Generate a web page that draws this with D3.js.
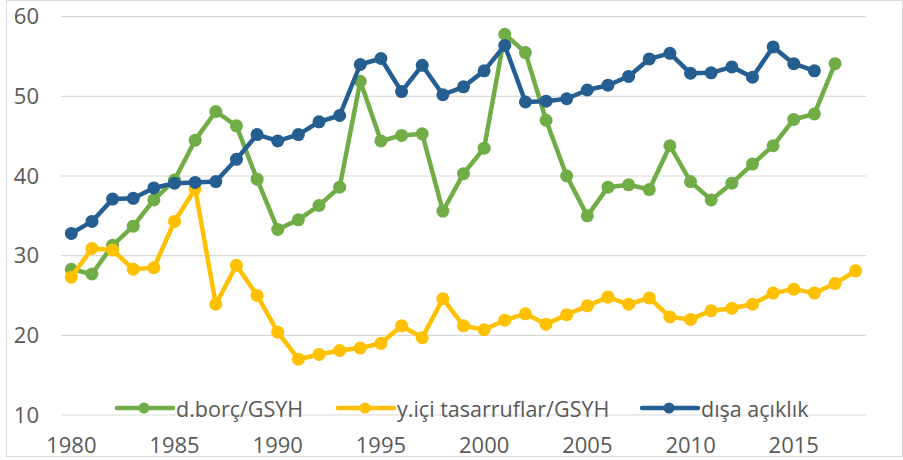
<!DOCTYPE html>
<html>
<head>
<meta charset="utf-8">
<script src="https://cdn.jsdelivr.net/npm/d3@7"></script>
<style>
  body { margin: 0; background: #fff; }
  text { font-family: "Open Sans", "Noto Sans", sans-serif; fill: #595959; }
</style>
</head>
<body>
<div id="chart"></div>
<script>
const years = d3.range(1980, 2019);

const borc = [28.3, 27.7, 31.3, 33.7, 37.0, 39.5, 44.5, 48.1, 46.3, 39.6,
  33.3, 34.5, 36.3, 38.6, 51.9, 44.4, 45.1, 45.3, 35.6, 40.3,
  43.5, 57.8, 55.5, 47.0, 40.0, 35.0, 38.6, 38.9, 38.3, 43.8,
  39.3, 37.0, 39.1, 41.5, 43.8, 47.1, 47.8, 54.1];

const tasarruf = [27.3, 30.9, 30.7, 28.3, 28.5, 34.3, 38.4, 23.9, 28.8, 25.0,
  20.4, 17.0, 17.6, 18.1, 18.4, 19.0, 21.2, 19.7, 24.6, 21.2,
  20.7, 21.9, 22.7, 21.4, 22.6, 23.7, 24.8, 23.9, 24.7, 22.3,
  22.0, 23.1, 23.4, 23.9, 25.3, 25.8, 25.3, 26.5, 28.1];

const acik = [32.8, 34.3, 37.1, 37.2, 38.5, 39.1, 39.2, 39.3, 42.1, 45.2,
  44.4, 45.2, 46.8, 47.6, 54.0, 54.75, 50.6, 53.9, 50.2, 51.2,
  53.2, 56.4, 49.3, 49.4, 49.7, 50.8, 51.4, 52.5, 54.7, 55.4,
  52.9, 52.95, 53.7, 52.4, 56.2, 54.1, 53.2];

const yTicks = [10, 20, 30, 40, 50, 60];
const xTicks = [1980, 1985, 1990, 1995, 2000, 2005, 2010, 2015];

const series = [
  { name: "d.borç/GSYH", values: borc, color: "#70AD47", lx: 117 },
  { name: "y.içi tasarruflar/GSYH", values: tasarruf, color: "#FFC000", lx: 338 },
  { name: "dışa açıklık", values: acik, color: "#255E91", lx: 642 }
];

const W = 903, H = 460;
const plot = { left: 61, right: 866, top: 16.7, bottom: 415 };

const svg = d3.select("#chart").append("svg")
  .attr("width", W)
  .attr("height", H);

// chart border
svg.append("rect")
  .attr("x", 6.5).attr("y", 0.5)
  .attr("width", W - 7).attr("height", 456)
  .attr("fill", "#fff")
  .attr("stroke", "#d9d9d9");

const x = d3.scaleBand()
  .domain(years)
  .range([plot.left, plot.right]);

const y = d3.scaleLinear()
  .domain([10, 60])
  .range([plot.bottom, plot.top]);

const cx = yr => x(yr) + x.bandwidth() / 2;

// gridlines
svg.append("g")
  .selectAll("line")
  .data(yTicks)
  .join("line")
  .attr("x1", plot.left).attr("x2", plot.right)
  .attr("y1", d => y(d)).attr("y2", d => y(d))
  .attr("stroke", "#d9d9d9")
  .attr("stroke-width", 1.2);

// axes
const yAxis = svg.append("g")
  .attr("transform", `translate(${plot.left},0)`)
  .call(d3.axisLeft(y).tickValues(yTicks).tickSize(0).tickPadding(22));
yAxis.select(".domain").remove();

const xAxis = svg.append("g")
  .attr("transform", `translate(0,${plot.bottom})`)
  .call(d3.axisBottom(x).tickValues(xTicks).tickSize(0).tickPadding(22));
xAxis.select(".domain").remove();

svg.selectAll(".tick").each(function() {
  d3.select(this.parentNode).attr("font-family", null).attr("font-size", null);
});
svg.selectAll(".tick text")
  .style("font-size", "22px")
  .attr("fill", "#595959");

// legend (sits on the bottom gridline)
const legend = svg.append("g");
series.forEach(s => {
  const g = legend.append("g");
  g.append("line")
    .attr("x1", s.lx).attr("x2", s.lx + 56)
    .attr("y1", 408).attr("y2", 408)
    .attr("stroke", s.color)
    .attr("stroke-width", 4.5)
    .attr("stroke-linecap", "round");
  g.append("circle")
    .attr("cx", s.lx + 27).attr("cy", 408)
    .attr("r", 5.5)
    .attr("fill", s.color);
  g.append("text")
    .attr("x", s.lx + 59)
    .attr("y", 417)
    .style("font-size", "21.5px")
    .text(s.name);
});

// series lines and markers
const line = d3.line()
  .x((d, i) => cx(years[i]))
  .y(d => y(d));

series.forEach(s => {
  const g = svg.append("g");
  g.append("path")
    .datum(s.values)
    .attr("d", line)
    .attr("fill", "none")
    .attr("stroke", s.color)
    .attr("stroke-width", 4.5)
    .attr("stroke-linejoin", "round");
  g.selectAll("circle")
    .data(s.values)
    .join("circle")
    .attr("cx", (d, i) => cx(years[i]))
    .attr("cy", d => y(d))
    .attr("r", 6.5)
    .attr("fill", s.color);
});
</script>
</body>
</html>
